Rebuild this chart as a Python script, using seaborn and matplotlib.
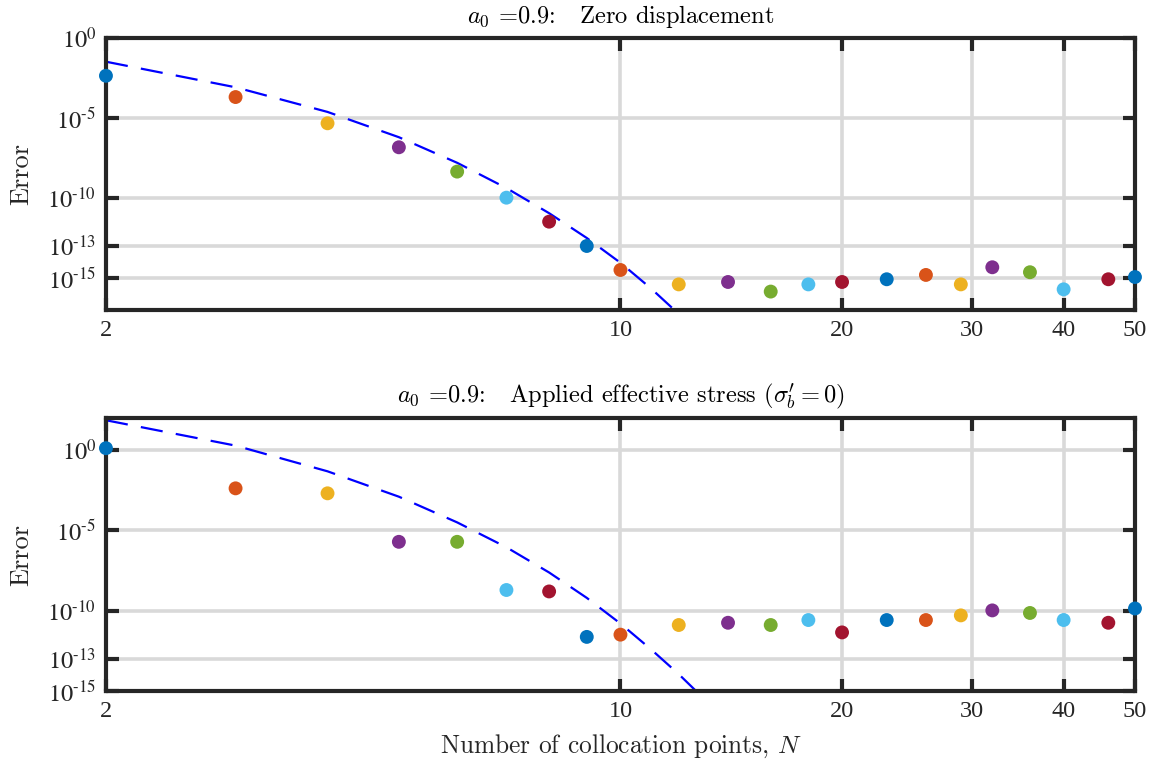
import numpy as np
import pandas as pd
import matplotlib
matplotlib.use("Agg")
import matplotlib.pyplot as plt
import seaborn as sns

# ---------------- data ----------------
N = [2, 3, 4, 5, 6, 7, 8, 9, 10, 12, 14, 16, 18, 20, 23, 26, 29, 32, 36, 40, 46, 50]
# log10 of error, zero displacement
log_err_top = [-2.36, -3.69, -5.33, -6.83, -8.35, -9.98, -11.48, -13.0, -14.5, -15.4, -15.25,
               -15.85, -15.4, -15.25, -15.08, -14.81, -15.4, -14.33, -14.64, -15.71, -15.08, -14.94]
# log10 of error, applied effective stress
log_err_bot = [0.12, -2.38, -2.69, -5.71, -5.71, -8.71, -8.8, -11.63, -11.49, -10.89, -10.75,
               -10.89, -10.58, -11.35, -10.58, -10.58, -10.29, -9.98, -10.14, -10.58, -10.75, -9.86]

# dashed estimate curves
N_est = [2, 3, 4, 5, 6, 7, 8, 9, 10, 11, 12, 13]
log_est_top = [-1.48, -3.08, -4.62, -6.2, -7.8, -9.38, -10.95, -12.5, -14.05, -15.65, -17.25, -18.85]
log_est_bot = [1.86, 0.28, -1.32, -2.9, -4.5, -6.05, -7.62, -9.2, -10.8, -12.4, -13.95, -15.5]

x_ticks = [2, 10, 20, 30, 40, 50]
y_ticks = [1e0, 1e-5, 1e-10, 1e-13, 1e-15]
y_ticklabels = [r"$10^{0}$", r"$10^{\text{-}5}$", r"$10^{\text{-}10}$",
                r"$10^{\text{-}13}$", r"$10^{\text{-}15}$"]

titles = [r"$a_0$ =0.9:   Zero displacement",
          r"$a_0$ =0.9:   Applied effective stress ($\sigma_b^{\prime} = 0$)"]
xlabel = r"Number of collocation points, $N$"
ylabel = "Error"

matlab_colors = ["#0072BD", "#D95319", "#EDB120", "#7E2F8E", "#77AC30", "#4DBEEE", "#A2142F"]

# ---------------- style ----------------
sns.set_theme(style="white")
plt.rcParams["font.family"] = ["Liberation Serif", "DejaVu Serif"]
plt.rcParams["mathtext.fontset"] = "stix"

fig = plt.figure(figsize=(11.63, 7.65), dpi=100)
ax1 = fig.add_axes([0.0911, 0.5948, 0.8848, 0.3555])
ax2 = fig.add_axes([0.0911, 0.0967, 0.8848, 0.3569])

spine_col = "#262626"
grid_col = "#d9d9d9"

panels = [
    (ax1, log_err_top, log_est_top, (1e-17, 1e0), titles[0], False),
    (ax2, log_err_bot, log_est_bot, (1e-15, 1e2), titles[1], True),
]

for ax, lerr, lest, ylim, title, show_xlabel in panels:
    df = pd.DataFrame({"N": N, "err": np.power(10.0, lerr),
                       "c": [i % 7 for i in range(len(N))]})
    dfe = pd.DataFrame({"N": N_est, "err": np.power(10.0, lest)})

    ax.set_xscale("log")
    ax.set_yscale("log")

    sns.lineplot(data=dfe, x="N", y="err", ax=ax, color="#0000FF", lw=1.6,
                 dashes=False, zorder=3)
    ax.lines[-1].set_dashes((10, 6))

    sns.scatterplot(data=df, x="N", y="err", hue="c", palette=matlab_colors,
                    legend=False, s=100, linewidth=0, ax=ax, zorder=5, clip_on=False)

    ax.set_xlim(2, 50)
    ax.set_ylim(*ylim)

    ax.set_xticks(x_ticks)
    ax.set_xticklabels([str(v) for v in x_ticks])
    ax.xaxis.set_minor_locator(matplotlib.ticker.NullLocator())
    ax.set_yticks(y_ticks)
    ax.set_yticklabels(y_ticklabels)
    ax.yaxis.set_minor_locator(matplotlib.ticker.NullLocator())

    ax.tick_params(axis="both", which="major", direction="in", length=9, width=3,
                   color=spine_col, labelsize=17.5, labelcolor="#262626",
                   top=True, right=True, bottom=True, left=True, pad=7)
    ax.grid(True, which="major", color=grid_col, lw=2.6)
    ax.set_axisbelow(True)

    for sp in ax.spines.values():
        sp.set_color(spine_col)
        sp.set_linewidth(3.0)
        sp.set_zorder(4)

    ax.set_title(title, fontsize=17.6, family="cmr10", math_fontfamily="cm",
                 color="black", pad=11)
    ax.set_ylabel(ylabel, fontsize=19, family="cmr10", color="#262626", labelpad=10)
    if show_xlabel:
        ax.set_xlabel(xlabel, fontsize=18.3, family="cmr10", math_fontfamily="cm",
                      color="#262626", labelpad=8)
    else:
        ax.set_xlabel("")

fig.savefig("out.png", dpi=100, facecolor="white")
